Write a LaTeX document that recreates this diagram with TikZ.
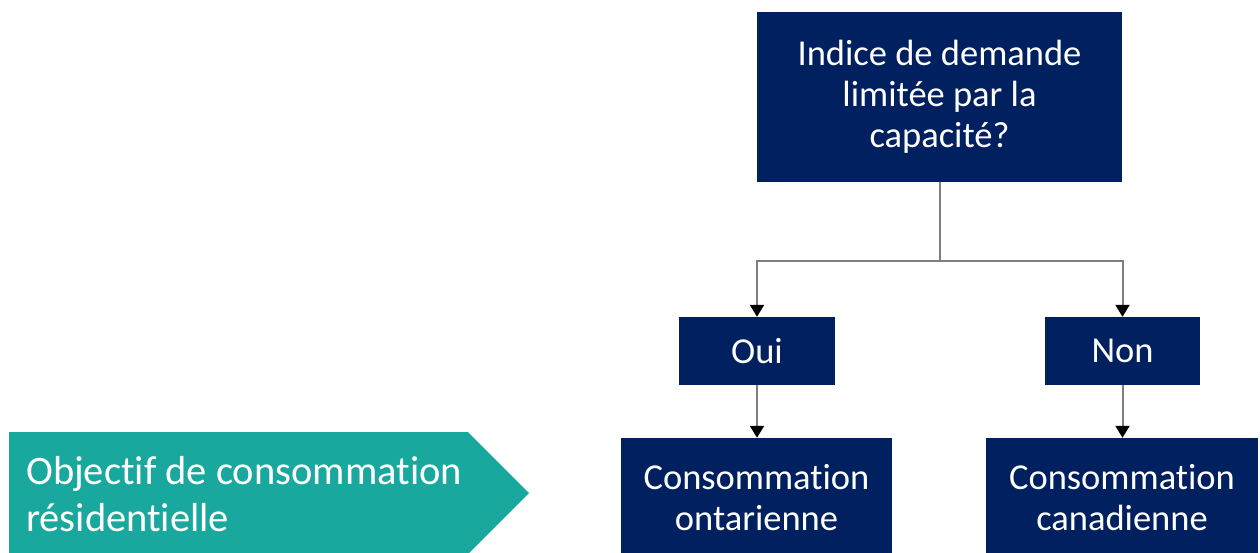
\documentclass[tikz,border=0pt]{standalone}
\usepackage{fontspec}
\setmainfont{Carlito}[Ligatures={NoCommon}]
\usetikzlibrary{arrows.meta}
\definecolor{navy}{HTML}{002060}
\definecolor{teal2}{HTML}{19A89D}
\definecolor{conn}{HTML}{7F7F7F}
\begin{document}
\begin{tikzpicture}[x=1pt,y=1pt,
  box/.style={fill=navy,draw=none,text=white,align=center,inner sep=0pt,
    font=\fontsize{36.5}{41}\selectfont},
  link/.style={draw=conn,line width=2pt,-{Triangle[width=14pt,length=12pt,color=black]}},
  plain/.style={draw=conn,line width=2pt}]
\useasboundingbox (0,0) rectangle (1260,-552);
\node[box,minimum width=365pt,minimum height=170pt] (top) at (939.5,-97) {Indice de demande\\limitée par la\\capacité?};
\node[box,minimum width=156pt,minimum height=68pt] (oui) at (757,-351) {Oui};
\node[box,minimum width=155pt,minimum height=68pt] (non) at (1122.5,-351) {Non};
\node[box,minimum width=271pt,minimum height=120pt] (ont) at (756.5,-498) {Consommation\\ontarienne};
\node[box,minimum width=272pt,minimum height=120pt] (can) at (1122,-498) {Consommation\\canadienne};
\coordinate (split) at (939.5,-261);
\draw[plain] (top.south) -- (split);
\draw[link] (split) -| (oui.north);
\draw[link] (split) -| (non.north);
\draw[link] (oui.south) -- (oui.south |- ont.north);
\draw[link] (non.south) -- (non.south |- can.north);
\fill[teal2] (9,-432) -- (468,-432) -- (529,-493) -- (468,-554) -- (9,-554) -- cycle;
\node[text=white,align=left,anchor=west,inner sep=0pt,font=\fontsize{40.5}{47}\selectfont] (obj) at (26,-494) {Objectif de consommation\\résidentielle};
\end{tikzpicture}
\end{document}
